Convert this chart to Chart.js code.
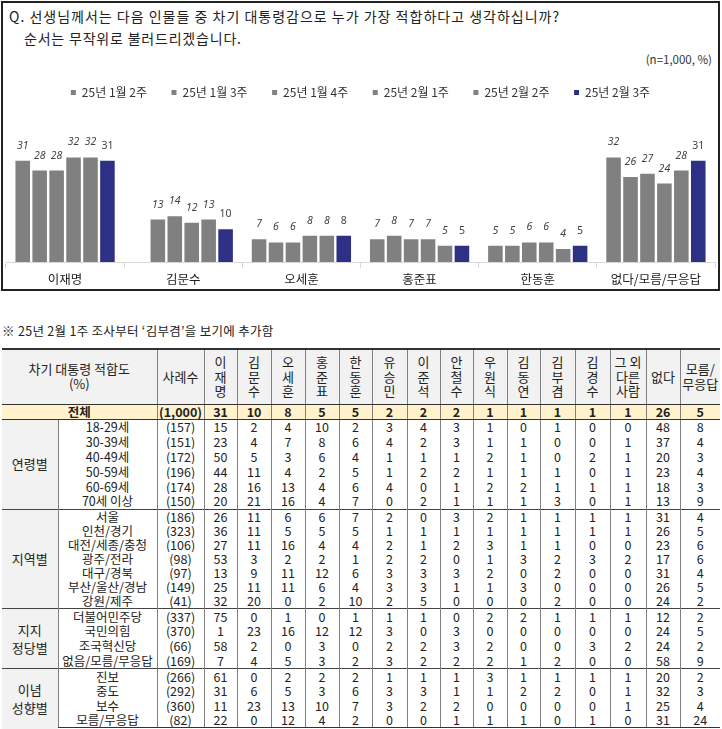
<!DOCTYPE html>
<html>
<head>
<meta charset="utf-8">
<script src="https://cdn.jsdelivr.net/npm/chart.js@4.4.1/dist/chart.umd.min.js"></script>
<style>
  body { margin: 0; background: #fff; font-family: 'Noto Sans CJK KR', 'Noto Sans', sans-serif; color: #222; }
  #box { position: absolute; left: 1px; top: 1px; width: 715px; height: 286px; border: 2px solid #222; }
  .q1 { position: absolute; left: 6px; top: 3px; font-size: 14px; letter-spacing: 1px; }
  .q2 { position: absolute; left: 21px; top: 25px; font-size: 14px; letter-spacing: 0.8px; }
  .unit { position: absolute; right: 6px; top: 48px; font-size: 11.5px; color: #333; }
  #wrap { position: absolute; left: 0px; top: 58px; width: 715px; height: 230px; }
  .note { position: absolute; left: 2px; top: 321px; font-size: 12.5px; letter-spacing: 0.3px; color: #222; }
  table { position: absolute; left: 2px; top: 348px; width: 718px; border-collapse: collapse; table-layout: fixed; font-size: 12.5px; color: #222; }
  td, th { padding: 0; text-align: center; border-left: 1px solid #808080; border-right: 1px solid #808080; line-height: 14px; white-space: nowrap; overflow: hidden; }
  th { background: #f2f2f2; font-weight: normal; border-top: 2px solid #333; border-bottom: 1px solid #333; font-size: 13px; line-height: 14.5px; }
  tr > :first-child { border-left: none; }
  tr > :last-child { border-right: none; }
  tr.total td { background: #fff2cc; font-weight: bold; border-bottom: 1px solid #333; }
  tr.first td { border-top: 1px solid #444; }
  tr.last td { border-bottom: 3px double #333; }
  td.grp { background: #f2f2f2; font-size: 13px; line-height: 18px; }
</style>
</head>
<body>
<div id="box">
  <div class="q1">Q. 선생님께서는 다음 인물들 중 차기 대통령감으로 누가 가장 적합하다고 생각하십니까?</div>
  <div class="q2">순서는 무작위로 불러드리겠습니다.</div>
  <div class="unit">(n=1,000, %)</div>
  <div id="wrap"><canvas id="grafico"></canvas></div>
</div>
<div class="note">※ 25년 2월 1주 조사부터 ‘김부겸’을 보기에 추가함</div>
<table id="tabela"></table>

<script>
// categorias e semanas do gráfico
var people = ['이재명', '김문수', '오세훈', '홍준표', '한동훈', '없다/모름/무응답'];
var weeks = ['25년 1월 2주', '25년 1월 3주', '25년 1월 4주', '25년 2월 1주', '25년 2월 2주', '25년 2월 3주'];

// valores por semana (um array por semana, na ordem de people)
var week1 = [31, null, 7, 7, 5, 32];
var week2 = [28, 13, 6, 8, 5, 26];
var week3 = [28, 14, 6, 7, 6, 27];
var week4 = [32, 12, 8, 7, 6, 24];
var week5 = [32, 13, 8, 5, 4, 28];
var week6 = [31, 10, 8, 5, 5, 31];
var weekValues = [week1, week2, week3, week4, week5, week6];

// dados da tabela
var colNames = ['이재명', '김문수', '오세훈', '홍준표', '한동훈', '유승민', '이준석', '안철수', '우원식', '김동연', '김부겸', '김경수'];
var totalRow = ['(1,000)', 31, 10, 8, 5, 5, 2, 2, 2, 1, 1, 1, 1, 1, 26, 5];

var ageNames = ['18-29세', '30-39세', '40-49세', '50-59세', '60-69세', '70세 이상'];
var ageRows = [
  ['(157)', 15, 2, 4, 10, 2, 3, 4, 3, 1, 0, 1, 0, 0, 48, 8],
  ['(151)', 23, 4, 7, 8, 6, 4, 2, 3, 1, 1, 0, 0, 1, 37, 4],
  ['(172)', 50, 5, 3, 6, 4, 1, 1, 1, 2, 1, 0, 2, 1, 20, 3],
  ['(196)', 44, 11, 4, 2, 5, 1, 2, 2, 1, 1, 1, 0, 1, 23, 4],
  ['(174)', 28, 16, 13, 4, 6, 4, 0, 1, 2, 2, 1, 1, 1, 18, 3],
  ['(150)', 20, 21, 16, 4, 7, 0, 2, 1, 1, 1, 3, 0, 1, 13, 9]
];

var regionNames = ['서울', '인천/경기', '대전/세종/충청', '광주/전라', '대구/경북', '부산/울산/경남', '강원/제주'];
var regionRows = [
  ['(186)', 26, 11, 6, 6, 7, 2, 0, 3, 2, 1, 1, 1, 1, 31, 4],
  ['(323)', 36, 11, 5, 5, 5, 1, 1, 1, 1, 1, 1, 1, 1, 26, 5],
  ['(106)', 27, 11, 16, 4, 4, 2, 1, 2, 3, 1, 1, 0, 0, 23, 6],
  ['(98)', 53, 3, 2, 2, 1, 2, 2, 0, 1, 3, 2, 3, 2, 17, 6],
  ['(97)', 13, 9, 11, 12, 6, 3, 3, 3, 2, 0, 2, 0, 0, 31, 4],
  ['(149)', 25, 11, 11, 6, 4, 3, 3, 1, 1, 3, 0, 0, 0, 26, 5],
  ['(41)', 32, 20, 0, 2, 10, 2, 5, 0, 0, 0, 2, 0, 0, 24, 2]
];

var partyNames = ['더불어민주당', '국민의힘', '조국혁신당', '없음/모름/무응답'];
var partyRows = [
  ['(337)', 75, 0, 1, 0, 1, 1, 1, 0, 2, 2, 1, 1, 1, 12, 2],
  ['(370)', 1, 23, 16, 12, 12, 3, 0, 3, 0, 0, 0, 0, 0, 24, 5],
  ['(66)', 58, 2, 0, 3, 0, 2, 2, 3, 2, 0, 0, 3, 2, 24, 2],
  ['(169)', 7, 4, 5, 3, 2, 3, 2, 2, 2, 1, 2, 0, 0, 58, 9]
];

var ideoNames = ['진보', '중도', '보수', '모름/무응답'];
var ideoRows = [
  ['(266)', 61, 0, 2, 2, 2, 1, 1, 1, 3, 1, 1, 1, 1, 20, 2],
  ['(292)', 31, 6, 5, 3, 6, 3, 3, 1, 1, 2, 2, 0, 1, 32, 3],
  ['(360)', 11, 23, 13, 10, 7, 3, 2, 2, 0, 0, 0, 0, 1, 25, 4],
  ['(82)', 22, 0, 12, 4, 2, 0, 0, 1, 1, 1, 0, 1, 0, 31, 24]
];

//cores
var gray = '#808080';
var blue = '#2e3085';

//datasets do gráfico
var datasets = weeks.map(function (w, i) {
  return {
    label: w,
    data: weekValues[i],
    backgroundColor: i === 5 ? blue : gray,
    borderWidth: 0,
    barPercentage: 0.86,
    categoryPercentage: 0.86
  };
});

// rótulos em cima das barras
var valueLabels = {
  id: 'valueLabels',
  afterDatasetsDraw: function (chart) {
    var ctx = chart.ctx;
    ctx.save();
    ctx.textAlign = 'center';
    ctx.textBaseline = 'middle';
    chart.data.datasets.forEach(function (ds, i) {
      var meta = chart.getDatasetMeta(i);
      ctx.font = (i === 5 ? '' : 'italic ') + '10.5px "Noto Sans", sans-serif';
      ctx.fillStyle = '#444';
      meta.data.forEach(function (bar, j) {
        var v = ds.data[j];
        if (v === null) return;
        ctx.fillText(v, bar.x, bar.y - 15);
      });
    });
    ctx.restore();
  }
};

var ctx = document.querySelector('#grafico');
var barChart = new Chart(ctx, {
  type: 'bar',
  data: { labels: people, datasets: datasets },
  options: {
    responsive: true,
    maintainAspectRatio: false,
    animation: false,
    layout: { padding: { top: 1, left: 3, right: 3, bottom: 0 } },
    plugins: {
      legend: {
        position: 'top',
        labels: {
          boxWidth: 5,
          boxHeight: 5,
          padding: 24.5,
          color: '#333',
          font: { size: 12, family: "'Noto Sans CJK KR'" }
        }
      },
      tooltip: { enabled: false }
    },
    scales: {
      x: {
        grid: { drawOnChartArea: false, drawTicks: true, tickLength: 6, color: '#d9d9d9', offset: true },
        border: { color: '#d9d9d9' },
        ticks: { color: '#222', padding: 4, font: { size: 12.5, family: "'Noto Sans CJK KR'" } }
      },
      y: {
        display: false,
        min: 0,
        max: 47
      }
    }
  },
  plugins: [valueLabels]
});

// monta a tabela
function cells(vals) {
  return vals.map(function (v) { return '<td>' + v + '</td>'; }).join('');
}
var html = '<colgroup><col style="width:56px"><col style="width:99px"><col style="width:47px">';
var widths = [33, 34, 34, 34, 33, 35, 33, 33, 34, 33, 35, 35, 36, 34, 40];
widths.forEach(function (w) { html += '<col style="width:' + w + 'px">'; });
html += '</colgroup>';
html += '<tr style="height:55px"><th colspan="2">차기 대통령 적합도<br>(%)</th><th>사례수</th>';
colNames.forEach(function (n) { html += '<th>' + n.split('').join('<br>') + '</th>'; });
html += '<th>그 외<br>다른<br>사람</th><th>없다</th><th>모름/<br>무응답</th></tr>';
html += '<tr class="total" style="height:15px"><td colspan="2">전체</td>' + cells(totalRow) + '</tr>';

function group(label, names, rows, h, isLast) {
  var out = '';
  names.forEach(function (n, i) {
    var cls = [];
    if (i === 0) cls.push('first');
    if (isLast && i === names.length - 1) cls.push('last');
    out += '<tr class="' + cls.join(' ') + '" style="height:' + h + 'px">';
    if (i === 0) out += '<td class="grp" rowspan="' + names.length + '">' + label + '</td>';
    out += '<td>' + n + '</td>' + cells(rows[i]) + '</tr>';
  });
  return out;
}
html += group('연령별', ageNames, ageRows, 15, false);
html += group('지역별', regionNames, regionRows, 14.2, false);
html += group('지지<br>정당별', partyNames, partyRows, 15, false);
html += group('이념<br>성향별', ideoNames, ideoRows, 14.7, true);
document.querySelector('#tabela').innerHTML = html;
</script>
</body>
</html>
